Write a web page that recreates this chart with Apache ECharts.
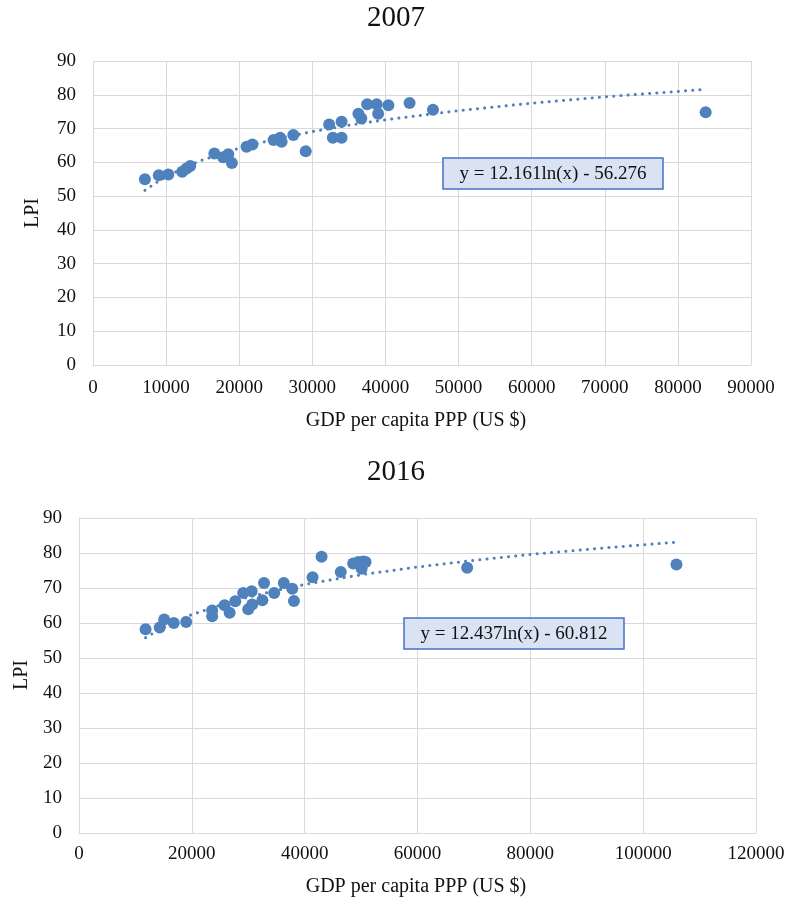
<!DOCTYPE html>
<html>
<head>
<meta charset="utf-8">
<script src="https://cdn.jsdelivr.net/npm/echarts@6/dist/echarts.min.js"></script>
<style>html,body{margin:0;padding:0;background:#fff}#c{width:791px;height:904px}</style>
</head>
<body>
<div id="c"></div>
<script>
// ---- data ----
const gdp2007 = [7100, 9000, 10300, 12200, 12800, 13300, 16600, 17800, 18500, 19000, 21000, 21800, 24700, 25600, 25800, 27400, 29100, 32300, 32800, 34000, 34000, 36300, 36700, 37500, 38800, 39000, 40400, 43300, 46500, 83800];
const lpi2007 = [55.0, 56.2, 56.4, 57.2, 58.2, 58.9, 62.6, 61.5, 62.4, 59.8, 64.6, 65.3, 66.6, 67.3, 66.1, 68.1, 63.3, 71.2, 67.3, 72.0, 67.3, 74.4, 73.0, 77.2, 77.2, 74.4, 76.9, 77.6, 75.6, 74.8];
const gdp2016 = [11800, 14300, 15100, 16800, 19000, 23600, 23600, 25800, 26700, 27700, 29100, 30600, 30000, 30700, 32500, 32800, 34600, 36300, 37800, 38100, 41400, 43000, 46400, 48600, 49500, 50100, 50400, 50800, 68800, 105900];
const lpi2016 = [58.2, 58.7, 61.0, 60.0, 60.3, 63.6, 61.9, 65.1, 62.9, 66.2, 68.6, 69.1, 63.9, 65.3, 66.5, 71.4, 68.6, 71.4, 69.8, 66.3, 73.1, 78.9, 74.6, 77.0, 77.4, 75.5, 77.6, 77.4, 75.8, 76.7];
// trendline (dotted) as seen in the picture
const trendX2007 = [7100, 8500, 10000, 12500, 15000, 20000, 25000, 30000, 35000, 40000, 50000, 60000, 70000, 83800];
const trendY2007 = [51.7, 53.8, 55.7, 58.5, 60.7, 64.2, 66.9, 69.1, 71.0, 72.6, 75.3, 77.5, 79.4, 81.6];
const trendX2016 = [11800, 14000, 17000, 20000, 25000, 30000, 35000, 40000, 50000, 60000, 70000, 80000, 92000, 105900];
const trendY2016 = [55.8, 57.9, 60.3, 62.4, 65.1, 67.4, 69.3, 71.0, 73.8, 76.0, 77.9, 79.6, 81.3, 83.1];
const titles = ['2007', '2016'];
const eq2007 = 'y = 12.161ln(x) - 56.276';
const eq2016 = 'y = 12.437ln(x) - 60.812';
const xName = 'GDP per capita PPP (US $)';
const yName = 'LPI';

const FONT = '"Liberation Serif", "Times New Roman", serif';
const BLUE = '#4f81bd';
const GRID = '#d9d9d9';
const zip = (a, b) => a.map((v, i) => [v, b[i]]);

function xAxis(idx, max, interval, margin) {
  return {
    type: 'value', gridIndex: idx, min: 0, max: max, interval: interval,
    axisLine: { show: true, onZero: false, lineStyle: { color: GRID } },
    axisTick: { show: false },
    splitLine: { show: true, lineStyle: { color: GRID, width: 1 } },
    axisLabel: { fontFamily: FONT, fontSize: 19, color: '#111', margin: margin, formatter: v => String(v) }
  };
}
function yAxis(idx) {
  return {
    type: 'value', gridIndex: idx, min: 0, max: 90, interval: 10,
    axisLine: { show: true, lineStyle: { color: GRID } },
    axisTick: { show: false },
    splitLine: { show: true, lineStyle: { color: GRID, width: 1 } },
    axisLabel: { fontFamily: FONT, fontSize: 19, color: '#111', margin: 17, formatter: v => String(v) }
  };
}
function trend(idx, xs, ys) {
  return {
    type: 'line', xAxisIndex: idx, yAxisIndex: idx, data: zip(xs, ys),
    smooth: false, showSymbol: false, silent: true, z: 1,
    lineStyle: { color: BLUE, width: 3, type: [0.1, 7.1], cap: 'round' }
  };
}
function pts(idx, xs, ys) {
  return {
    type: 'scatter', xAxisIndex: idx, yAxisIndex: idx, data: zip(xs, ys),
    symbol: 'circle', symbolSize: 12, z: 3,
    itemStyle: { color: BLUE, opacity: 1 }
  };
}
function txt(x, y, s, size, rot) {
  return {
    type: 'text', x: x, y: y, rotation: rot || 0,
    style: { text: s, fontFamily: FONT, fontSize: size, fill: '#111', align: 'center', verticalAlign: 'middle' }
  };
}
function box(x, y, w, h, s) {
  return {
    type: 'group', children: [
      { type: 'rect', shape: { x: x, y: y, width: w, height: h }, style: { fill: '#dae3f3', stroke: '#4472c4', lineWidth: 1.5 }, z: 10 },
      { type: 'text', x: x + w / 2, y: y + h / 2 + 1, z: 11, style: { text: s, fontFamily: FONT, fontSize: 19, fill: '#111', align: 'center', verticalAlign: 'middle' } }
    ]
  };
}

const chart = echarts.init(document.getElementById('c'), null, { renderer: 'canvas' });
chart.setOption({
  animation: false,
  backgroundColor: '#fff',
  grid: [
    { left: 93, top: 61, width: 658, height: 304 },
    { left: 79, top: 518, width: 677, height: 315 }
  ],
  xAxis: [xAxis(0, 90000, 10000, 14), xAxis(1, 120000, 20000, 12)],
  yAxis: [yAxis(0), yAxis(1)],
  series: [
    trend(0, trendX2007, trendY2007), pts(0, gdp2007, lpi2007),
    trend(1, trendX2016, trendY2016), pts(1, gdp2016, lpi2016)
  ],
  graphic: [
    txt(396, 18, titles[0], 29),
    txt(396, 472, titles[1], 29),
    txt(416, 421, xName, 20),
    txt(416, 887, xName, 20),
    txt(33, 213, yName, 20, Math.PI / 2),
    txt(22, 675, yName, 20, Math.PI / 2),
    box(443, 158, 220, 31, eq2007),
    box(404, 618, 220, 31, eq2016)
  ]
});
</script>
</body>
</html>
